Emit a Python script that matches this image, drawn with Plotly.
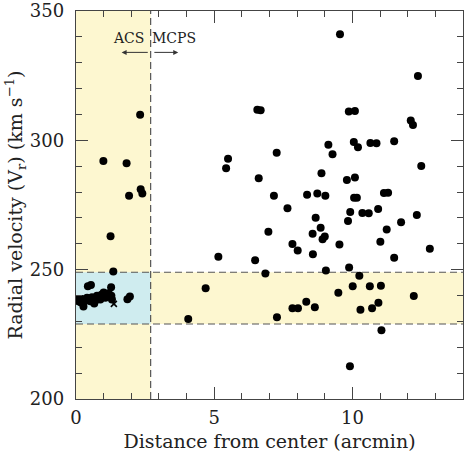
import plotly.graph_objects as go

# ---- data ----
acs_dist = [2.32, 0.99, 1.83, 2.34, 2.40, 1.92, 1.25, 1.35,
            0.54, 0.43, 1.27, 1.00, 0.92, 1.18, 0.76, 1.28, 0.58, 0.40, 0.22, 0.04,
            1.06, 1.30, 0.70, 0.31, 0.88, 0.16, 0.52, 0.05, 0.27, 0.66, 1.95, 1.86]
acs_vel = [309.9, 292.0, 291.1, 281.1, 279.4, 278.6, 262.9, 249.3,
           244.1, 243.6, 243.2, 241.2, 240.3, 240.9, 239.9, 239.9, 239.3, 239.1, 238.7, 238.7,
           239.1, 238.5, 238.1, 237.8, 238.5, 237.4, 237.8, 237.9, 235.8, 236.9, 239.6, 238.6]

mcps_dist = [9.55, 12.37, 6.56, 6.68, 9.87, 10.09, 12.11, 12.19, 10.05, 10.20, 10.65, 10.87,
             11.51, 9.13, 9.28, 7.26, 5.50, 5.43, 12.49, 6.61, 8.88, 9.80, 10.09, 7.16, 8.36,
             8.73, 9.02, 10.06, 10.16, 11.14, 11.29, 7.65, 9.92, 10.36, 10.59, 10.93, 12.33,
             8.67, 9.84, 11.76, 8.85, 6.96, 8.56, 11.24, 9.00, 8.92, 11.01, 7.83, 9.53, 8.02,
             12.80, 5.15, 6.48, 8.57, 11.51, 6.85, 9.04, 9.88, 10.25, 4.69, 10.01, 10.63,
             11.03, 9.49, 12.22, 8.33, 7.83, 8.03, 8.64, 10.94, 10.29, 10.71, 7.27, 4.06,
             11.05, 9.91]
mcps_vel = [341.0, 324.9, 311.8, 311.6, 311.1, 311.3, 307.7, 305.9, 299.4, 297.3, 299.0, 298.9,
            299.6, 298.3, 294.6, 295.2, 292.9, 289.2, 290.1, 285.3, 287.3, 284.7, 285.6, 278.6, 279.0,
            279.4, 278.6, 277.8, 277.8, 279.6, 279.7, 273.7, 272.3, 271.9, 271.8, 273.5, 271.1,
            270.1, 268.8, 268.3, 266.2, 264.7, 263.9, 265.5, 262.8, 261.8, 260.8, 259.9, 259.7, 257.4,
            258.1, 255.0, 253.6, 256.0, 254.6, 248.5, 249.7, 250.8, 247.6, 242.8, 243.6, 243.6,
            243.8, 241.1, 239.8, 237.6, 235.1, 235.1, 235.5, 237.2, 234.5, 235.1, 231.6, 230.9,
            226.6, 212.7]

cross_dist = [1.37]
cross_vel = [236.8]

acs_limit = 2.7          # boundary between ACS and MCPS fields (arcmin)
band_low, band_high = 229, 249   # velocity band (km/s)
x_range = [0, 14]
y_range = [200, 350]
x_ticks = [0, 5, 10]
y_ticks = [200, 250, 300, 350]

FONT = "DejaVu Serif"
TXT = "#222222"
YELLOW = "#FDF7D0"
BLUE = "#CFECEF"
DASH = "#555555"
AX = "#444444"

fig = go.Figure()

fig.add_trace(go.Scatter(x=acs_dist, y=acs_vel, mode="markers",
                         marker=dict(color="black", size=8), showlegend=False))
fig.add_trace(go.Scatter(x=mcps_dist, y=mcps_vel, mode="markers",
                         marker=dict(color="black", size=8), showlegend=False))
fig.add_trace(go.Scatter(x=cross_dist, y=cross_vel, mode="markers",
                         marker=dict(symbol="x-thin", size=6, color="black",
                                     line=dict(color="black", width=1.6)),
                         showlegend=False))

# shaded regions
fig.add_shape(type="rect", xref="x", yref="y", x0=x_range[0], x1=acs_limit,
              y0=y_range[0], y1=y_range[1], fillcolor=YELLOW, line_width=0, layer="below")
fig.add_shape(type="rect", xref="x", yref="y", x0=acs_limit, x1=x_range[1],
              y0=band_low, y1=band_high, fillcolor=YELLOW, line_width=0, layer="below")
fig.add_shape(type="rect", xref="x", yref="y", x0=x_range[0], x1=acs_limit,
              y0=band_low, y1=band_high, fillcolor=BLUE, line_width=0, layer="below")
# dashed lines
fig.add_shape(type="line", xref="x", yref="y", x0=acs_limit, x1=acs_limit,
              y0=y_range[0], y1=y_range[1], line=dict(color=DASH, width=1.2, dash="7px,4px"),
              layer="below")
for yv in (band_low, band_high):
    fig.add_shape(type="line", xref="x", yref="y", x0=x_range[0], x1=x_range[1],
                  y0=yv, y1=yv, line=dict(color=DASH, width=1.2, dash="7px,4px"), layer="below")

# ACS / MCPS labels and arrows
fig.add_annotation(x=1.90, y=339.6, text="ACS", showarrow=False,
                   font=dict(family=FONT, size=14, color=TXT))
fig.add_annotation(x=3.55, y=339.6, text="MCPS", showarrow=False,
                   font=dict(family=FONT, size=14, color=TXT))
fig.add_annotation(x=1.65, y=334, ax=2.65, ay=334, axref="x", ayref="y",
                   xref="x", yref="y", text="", showarrow=True,
                   arrowhead=2, arrowsize=1, arrowwidth=1, arrowcolor="#333")
fig.add_annotation(x=3.70, y=334, ax=2.78, ay=334, axref="x", ayref="y",
                   xref="x", yref="y", text="", showarrow=True,
                   arrowhead=2, arrowsize=1, arrowwidth=1, arrowcolor="#333")

axis_common = dict(showline=True, linecolor=AX, linewidth=1.2, mirror="allticks",
                   ticks="inside", ticklen=12, tickwidth=1, tickcolor=AX,
                   showgrid=False, zeroline=False,
                   tickfont=dict(family=FONT, size=18, color=TXT))

fig.update_xaxes(range=x_range, tickvals=x_ticks,
                 minor=dict(dtick=1, ticks="inside", ticklen=6, tickcolor=AX),
                 ticklabelstandoff=2,
                 title=dict(text="Distance from center (arcmin)",
                            font=dict(family=FONT, size=19, color=TXT), standoff=8),
                 **axis_common)
fig.update_yaxes(range=y_range, tickvals=y_ticks,
                 minor=dict(dtick=10, ticks="inside", ticklen=6, tickcolor=AX),
                 ticklabelstandoff=7,
                 title=dict(text="Radial velocity (V<sub>r</sub>) (km s<sup>\u22121</sup>)",
                            font=dict(family=FONT, size=19, color=TXT), standoff=2),
                 **axis_common)

fig.update_layout(width=469, height=456,
                  margin=dict(l=76, r=6, t=11, b=57, autoexpand=False),
                  plot_bgcolor="white", paper_bgcolor="white")

# remove the default page margin so the figure sits at the window origin
fig.write_html("out.html",
               config={"displayModeBar": False, "staticPlot": True},
               post_script="document.body.style.margin='0';document.body.style.overflow='hidden';")
